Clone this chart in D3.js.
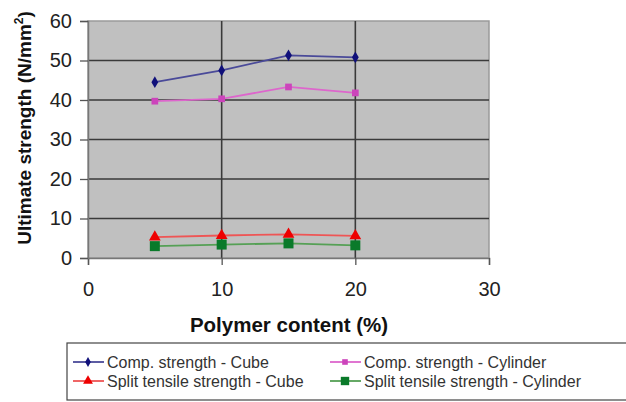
<!DOCTYPE html>
<script src="https://d3js.org/d3.v7.min.js"></script>
<style>
  body { margin: 0; background: #fff; font-family: Arial, "Liberation Sans", sans-serif; }
  .axisLabel { font-weight: bold; fill: #111; }
  .legend text { font-size: 16px; fill: #333; }
</style>
<body></body>
<script>
// data
var polymer = [5, 10, 15, 20];
var compCube = [44.5, 47.5, 51.3, 50.8];
var compCylinder = [39.7, 40.3, 43.3, 41.8];
var splitCube = [5.3, 5.7, 6.0, 5.6];
var splitCylinder = [3.0, 3.4, 3.7, 3.2];
var xTicks = [0, 10, 20, 30];
var yTicks = [0, 10, 20, 30, 40, 50, 60];

var series = [
  {name: "Comp. strength - Cube", values: compCube, line: "#4a4a99", mark: "#10107a", shape: d3.symbolDiamond, size: 40},
  {name: "Comp. strength - Cylinder", values: compCylinder, line: "#dd66cc", mark: "#cc44bb", shape: d3.symbolSquare, size: 45},
  {name: "Split tensile strength - Cube", values: splitCube, line: "#ee5555", mark: "#ee0000", shape: d3.symbolTriangle, size: 60},
  {name: "Split tensile strength - Cylinder", values: splitCylinder, line: "#55a055", mark: "#0a7a2a", shape: d3.symbolSquare, size: 100}
];

var W = 626, H = 402;
var svg = d3.select("body").append("svg").attr("width", W).attr("height", H);

var x = d3.scaleLinear().domain([0, 30]).range([88, 489]);
var y = d3.scaleLinear().domain([0, 60]).range([258, 21]);

// plot area
svg.append("rect")
    .attr("x", x(0)).attr("y", y(60))
    .attr("width", x(30) - x(0)).attr("height", y(0) - y(60))
    .attr("fill", "#c0c0c0")
    .attr("stroke", "#9a9a9a").attr("stroke-width", 1.5);

// gridlines
svg.append("g").selectAll("line")
    .data(yTicks.filter(function(d) { return d > 0 && d < 60; }))
    .enter().append("line")
    .attr("x1", x(0)).attr("x2", x(30))
    .attr("y1", function(d) { return y(d); }).attr("y2", function(d) { return y(d); })
    .attr("stroke", "#3a3a3a").attr("stroke-width", 1.6);
svg.append("g").selectAll("line")
    .data(xTicks.filter(function(d) { return d > 0 && d < 30; }))
    .enter().append("line")
    .attr("y1", y(0)).attr("y2", y(60))
    .attr("x1", function(d) { return x(d); }).attr("x2", function(d) { return x(d); })
    .attr("stroke", "#3a3a3a").attr("stroke-width", 1.6);

// axes
var gx = svg.append("g")
    .attr("transform", "translate(0," + y(0) + ")")
    .call(d3.axisBottom(x).tickValues(xTicks).tickSize(7).tickPadding(17));
var gy = svg.append("g")
    .attr("transform", "translate(" + x(0) + ",0)")
    .call(d3.axisLeft(y).tickValues(yTicks).tickSize(8).tickPadding(8));
[gx, gy].forEach(function(g) {
  g.select(".domain").attr("stroke", "#777").attr("stroke-width", 1.5);
  g.selectAll(".tick line").attr("stroke", "#555").attr("stroke-width", 1.3);
  g.selectAll(".tick text")
      .attr("font-family", "Arial, 'Liberation Sans', sans-serif")
      .attr("font-size", 20).attr("fill", "#222");
});

// axis labels
svg.append("text")
    .attr("class", "axisLabel")
    .attr("font-size", 20.5)
    .attr("x", 289).attr("y", 332)
    .attr("text-anchor", "middle")
    .text("Polymer content (%)");
var yl = svg.append("text")
    .attr("class", "axisLabel")
    .attr("font-size", 19)
    .attr("transform", "translate(31,128) rotate(-90)")
    .attr("text-anchor", "middle");
yl.append("tspan").text("Ultimate strength (N/mm");
yl.append("tspan").attr("font-size", 12).attr("dy", -8).text("2");
yl.append("tspan").attr("dy", 8).text(")");

// series
var line = d3.line()
    .x(function(d, i) { return x(polymer[i]); })
    .y(function(d) { return y(d); });
series.forEach(function(s) {
  svg.append("path")
      .attr("d", line(s.values))
      .attr("fill", "none")
      .attr("stroke", s.line)
      .attr("stroke-width", 1.8);
  svg.append("g").selectAll("path")
      .data(s.values)
      .enter().append("path")
      .attr("transform", function(d, i) { return "translate(" + x(polymer[i]) + "," + y(d) + ")"; })
      .attr("d", d3.symbol().type(s.shape).size(s.size))
      .attr("fill", s.mark);
});

// legend
var legend = svg.append("g").attr("class", "legend");
legend.append("rect")
    .attr("x", 67).attr("y", 343)
    .attr("width", 600).attr("height", 57)
    .attr("fill", "#fff").attr("stroke", "#444").attr("stroke-width", 1.2);
var item = legend.selectAll("g.item")
    .data(series)
    .enter().append("g")
    .attr("class", "item")
    .attr("transform", function(d, i) {
      return "translate(" + (i % 2 ? 330 : 73) + "," + (i < 2 ? 362 : 381) + ")";
    });
item.append("line")
    .attr("x1", 0).attr("x2", 31)
    .attr("stroke", function(d) { return d.line; })
    .attr("stroke-width", 1.8);
item.append("path")
    .attr("transform", "translate(15,0)")
    .attr("d", function(d) { return d3.symbol().type(d.shape).size(d.size * 0.7)(); })
    .attr("fill", function(d) { return d.mark; });
item.append("text")
    .attr("x", 34).attr("dy", "0.35em")
    .text(function(d) { return d.name; });
</script>
